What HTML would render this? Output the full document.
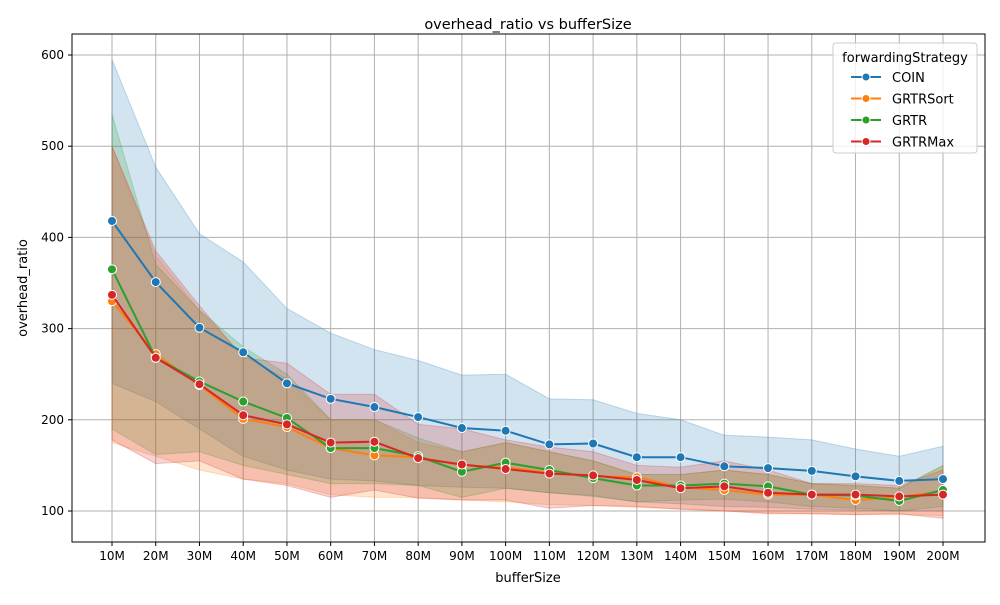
<!DOCTYPE html>
<html><head><meta charset="utf-8"><style>
body{margin:0;background:#fff;font-family:"Liberation Sans","DejaVu Sans",sans-serif;}
svg text{font-family:"DejaVu Sans","Liberation Sans",sans-serif;}
</style></head><body>
<svg id="chart" width="1000" height="600" xmlns="http://www.w3.org/2000/svg"></svg>
<script>
const categories=["10M","20M","30M","40M","50M","60M","70M","80M","90M","100M","110M","120M","130M","140M","150M","160M","170M","180M","190M","200M"];
const seriesNames=["COIN","GRTRSort","GRTR","GRTRMax"];
const coinMean=[418,351,301,274,240,223,214,203,191,188,173,174,159,159,149,147,144,138,133,135];
const coinHi=[595,477,404,373,322,295,277,265,249,250,223,222,207,200,183,181,178,168,160,171];
const coinLo=[240,220,190,160,145,135,133,128,126,125,120,117,110,108,105,104,102,101,100,100];
const sortMean=[330,272,238,201,192,169,161,159,150,148,142,138,137,126,123,118,118,112,115,122];
const sortHi=[500,380,320,270,245,200,200,175,165,175,165,155,140,140,145,140,130,128,125,150];
const sortLo=[175,160,145,135,130,118,115,115,112,110,107,106,104,102,100,98,97,96,96,95];
const grtrMean=[365,268,242,220,202,169,169,160,143,153,145,136,128,128,130,127,118,117,111,123];
const grtrHi=[535,370,320,280,250,200,200,180,165,175,165,155,140,140,145,140,130,128,125,150];
const grtrLo=[190,162,165,150,140,130,130,128,115,125,120,116,110,112,113,110,105,103,100,105];
const maxMean=[337,268,239,205,195,175,176,158,151,146,141,139,134,125,127,120,118,118,116,118];
const maxHi=[500,385,325,268,262,228,228,195,190,178,170,165,150,148,155,145,130,130,128,145];
const maxLo=[178,152,155,135,128,115,123,114,112,112,103,106,105,102,100,97,97,96,97,92];
const yTicks=[100,200,300,400,500,600];

const colors=["#1f77b4","#ff7f0e","#2ca02c","#d62728"];
const means=[coinMean,sortMean,grtrMean,maxMean],his=[coinHi,sortHi,grtrHi,maxHi],los=[coinLo,sortLo,grtrLo,maxLo];
const L=72,R=985,T=34,B=542;
const x=i=>112+i*(943-112)/(categories.length-1);
const y=v=>511-(v-100)*0.912;
const svg=document.getElementById('chart');
const NS="http://www.w3.org/2000/svg";
function mk(t,a,p){const e=document.createElementNS(NS,t);for(const k in a)e.setAttribute(k,a[k]);(p||svg).appendChild(e);return e;}
// grid
categories.forEach((c,i)=>{
 const g=mk('line',{x1:x(i),x2:x(i),y1:T,y2:B,stroke:'#b0b0b0','stroke-width':1});
 
 
 mk('line',{x1:x(i),x2:x(i),y1:B,y2:B+4,stroke:'#000'});
 const t=mk('text',{x:x(i),y:B+18,'text-anchor':'middle','font-size':12});t.textContent=c;
 
 
});
yTicks.forEach(v=>{
 const g=mk('line',{x1:L,x2:R,y1:y(v),y2:y(v),stroke:'#b0b0b0','stroke-width':1});
 
 
 mk('line',{x1:L-4,x2:L,y1:y(v),y2:y(v),stroke:'#000'});
 const t=mk('text',{x:L-8,y:y(v)+4,'text-anchor':'end','font-size':12});t.textContent=v;
 
 
});
// bands
for(let s=0;s<4;s++){
 let d='';his[s].forEach((v,i)=>d+=(i?'L':'M')+x(i)+','+y(v));
 for(let i=los[s].length-1;i>=0;i--)d+='L'+x(i)+','+y(los[s][i]);
 const p=mk('path',{d:d+'Z',fill:colors[s],'fill-opacity':0.2,stroke:colors[s],'stroke-opacity':0.25});
 
 
}
for(let s=0;s<4;s++){
 const g=mk('g',{});
 
 
 mk('polyline',{points:means[s].map((v,i)=>x(i)+','+y(v)).join(' '),fill:'none',stroke:colors[s],'stroke-width':2},g);
 means[s].forEach((v,i)=>{
  const c=mk('circle',{cx:x(i),cy:y(v),r:4.5,fill:colors[s],stroke:'#fff','stroke-width':1},g);
  
  
 });
}
mk('rect',{x:L,y:T,width:R-L,height:B-T,fill:'none',stroke:'#000','stroke-width':1});
let t=mk('text',{x:528,y:29,'text-anchor':'middle','font-size':14.5});t.textContent='overhead_ratio vs bufferSize';


t=mk('text',{x:528,y:582,'text-anchor':'middle','font-size':13});t.textContent='bufferSize';


t=mk('text',{x:27,y:288,'text-anchor':'middle','font-size':13,transform:'rotate(-90 27 288)'});t.textContent='overhead_ratio';


// legend
const lg=mk('g',{});


mk('rect',{x:833,y:43,width:144,height:110,rx:3,fill:'#fff','fill-opacity':0.8,stroke:'#ccc'},lg);
t=mk('text',{x:905,y:62,'text-anchor':'middle','font-size':13},lg);t.textContent='forwardingStrategy';
seriesNames.forEach((n,i)=>{
 const yy=77+i*21.5;
 const e=mk('g',{},lg);
 
 
 mk('line',{x1:851,x2:881,y1:yy,y2:yy,stroke:colors[i],'stroke-width':2},e);
 mk('circle',{cx:866,cy:yy,r:4,fill:colors[i],stroke:'#fff'},e);
 const tt=mk('text',{x:892,y:yy+5,'font-size':13},e);tt.textContent=n;
});
</script>
</body></html>
